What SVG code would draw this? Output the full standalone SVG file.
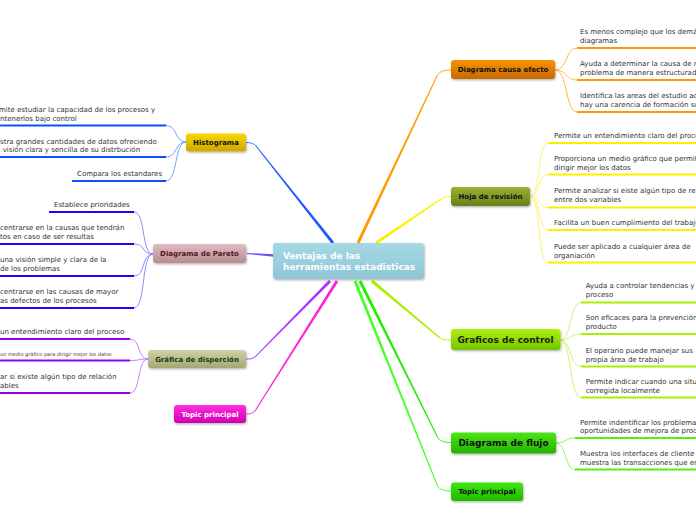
<svg xmlns="http://www.w3.org/2000/svg" width="696" height="520" viewBox="0 0 696 520">
<style>
.t{font-family:"DejaVu Sans",Verdana,sans-serif;font-size:7px;fill:#333}
.nb{font-family:"DejaVu Sans",Verdana,sans-serif;font-weight:bold;font-size:7px;text-anchor:middle}
.nl{font-family:"DejaVu Sans",Verdana,sans-serif;font-weight:bold;font-size:9px;text-anchor:middle}
.u{stroke-width:2;fill:none}
.c{stroke-width:0.9;fill:none}
</style>
<defs>
<filter id="sh" x="-10%" y="-20%" width="125%" height="160%"><feDropShadow dx="0.8" dy="1.2" stdDeviation="0.9" flood-color="#000" flood-opacity="0.3"/></filter>
<linearGradient id="gC" x1="0" y1="0" x2="0" y2="1"><stop offset="0" stop-color="#a6d8e4"/><stop offset="1" stop-color="#8ec6d6"/></linearGradient>
<linearGradient id="gH" x1="0" y1="0" x2="0" y2="1"><stop offset="0" stop-color="#f7d800"/><stop offset="1" stop-color="#d0a600"/></linearGradient>
<linearGradient id="gP" x1="0" y1="0" x2="0" y2="1"><stop offset="0" stop-color="#e0bcc0"/><stop offset="1" stop-color="#b88c92"/></linearGradient>
<linearGradient id="gD" x1="0" y1="0" x2="0" y2="1"><stop offset="0" stop-color="#cfd3a6"/><stop offset="1" stop-color="#a3a872"/></linearGradient>
<linearGradient id="gM" x1="0" y1="0" x2="0" y2="1"><stop offset="0" stop-color="#ff2ee0"/><stop offset="1" stop-color="#d000b0"/></linearGradient>
<linearGradient id="gO" x1="0" y1="0" x2="0" y2="1"><stop offset="0" stop-color="#f89400"/><stop offset="1" stop-color="#c66800"/></linearGradient>
<linearGradient id="gR" x1="0" y1="0" x2="0" y2="1"><stop offset="0" stop-color="#9cb232"/><stop offset="1" stop-color="#66801a"/></linearGradient>
<linearGradient id="gG" x1="0" y1="0" x2="0" y2="1"><stop offset="0" stop-color="#aef010"/><stop offset="1" stop-color="#74c400"/></linearGradient>
<linearGradient id="gF" x1="0" y1="0" x2="0" y2="1"><stop offset="0" stop-color="#4ee418"/><stop offset="1" stop-color="#22b400"/></linearGradient>
<linearGradient id="gT" x1="0" y1="0" x2="0" y2="1"><stop offset="0" stop-color="#3ee80e"/><stop offset="1" stop-color="#20b800"/></linearGradient>
</defs>

<g id="connectors">
  <!-- main connectors -->
  <path d="M246,142.5 C251,142.5 254,143.5 256,146" stroke="#2a66ff" class="c"/>
  <polygon points="255.61,146.31 331.83,243.93 334.17,242.07 256.39,145.69" fill="#1f5cff"/>
  <path d="M451,70 C444,70 440,71 437,76" stroke="#ff9a00" class="c"/>
  <polygon points="436.55,75.79 356.64,242.36 359.36,243.64 437.45,76.21" fill="#ff9a00"/>
  <path d="M451,196.5 C446,196.5 444,197 441,199" stroke="#ffee00" class="c"/>
  <polygon points="440.72,198.59 375.16,241.76 376.84,244.24 441.28,199.41" fill="#ffee00"/>
  <polygon points="246.96,254 273.91,256.7 274.09,254.3 247.04,253" fill="#6a50ff"/>
  <path d="M246,359 C250,359 252,359 255,357" stroke="#aa33ff" class="c"/>
  <polygon points="255.36,357.35 331.07,282.05 328.93,279.95 254.64,356.65" fill="#aa33ff"/>
  <path d="M246,414 C250,414 252,413.5 255,411" stroke="#ff22dd" class="c"/>
  <polygon points="255.42,411.27 338.27,281.8 335.73,280.2 254.58,410.73" fill="#ff22dd"/>
  <path d="M451,340 C446,340 443,340 440,338" stroke="#aaee00" class="c"/>
  <polygon points="440.32,337.62 372.96,279.85 371.04,282.15 439.68,338.38" fill="#aaee00"/>
  <path d="M451,442.5 C445,442.5 441,441.5 438,438" stroke="#22ee00" class="c"/>
  <polygon points="438.45,437.78 361.34,280.33 358.66,281.67 437.55,438.22" fill="#22ee00"/>
  <path d="M451,491 C445,491 441,490 438,487" stroke="#44ff22" class="c"/>
  <polygon points="438.46,486.81 356.39,280.44 353.61,281.56 437.54,487.19" fill="#44ff22"/>

  <!-- Histograma children -->
  <g stroke="#6a96ff" class="c">
    <path d="M186,142 C174,142 178,125.5 166,125.5"/>
    <path d="M186,142 C174,142 178,157 166,157"/>
    <path d="M186,142 C174,142 178,181 166,181"/>
  </g>
  <g stroke="#0a50ff" class="u">
    <line x1="0" y1="125.5" x2="166" y2="125.5"/>
    <line x1="0" y1="157" x2="166" y2="157"/>
    <line x1="72" y1="181" x2="166" y2="181"/>
  </g>
  <!-- Pareto children -->
  <g stroke="#8a7aff" class="c">
    <path d="M153,254 C141,254 146,212 134,212"/>
    <path d="M153,254 C141,254 146,244 134,244"/>
    <path d="M153,254 C141,254 146,276 134,276"/>
    <path d="M153,254 C141,254 146,308 134,308"/>
  </g>
  <g stroke="#2a00f0" class="u">
    <line x1="49" y1="212" x2="134" y2="212"/>
    <line x1="0" y1="244" x2="134" y2="244"/>
    <line x1="0" y1="276" x2="134" y2="276"/>
    <line x1="0" y1="308" x2="134" y2="308"/>
  </g>
  <!-- Dispersion children -->
  <g stroke="#c070ff" class="c">
    <path d="M148,359 C137,359 141,339 130,339"/>
    <path d="M148,359 C137,359 141,360.5 130,360.5"/>
    <path d="M148,359 C137,359 141,393 130,393"/>
  </g>
  <g stroke="#9400ee" class="u">
    <line x1="0" y1="339" x2="130" y2="339"/>
    <line x1="0" y1="360.5" x2="130" y2="360.5"/>
    <line x1="0" y1="393" x2="130" y2="393"/>
  </g>
  <!-- Causa efecto children -->
  <g stroke="#ffb040" class="c">
    <path d="M555,70 C568,70 565,48 577,48"/>
    <path d="M555,70 C568,70 565,80 577,80"/>
    <path d="M555,70 C568,70 565,112 577,112"/>
  </g>
  <g stroke="#ff9900" class="u">
    <line x1="577" y1="48" x2="696" y2="48"/>
    <line x1="577" y1="80" x2="696" y2="80"/>
    <line x1="577" y1="112" x2="696" y2="112"/>
  </g>
  <!-- Hoja children -->
  <g stroke="#fff060" class="c">
    <path d="M530,196 C541,196 537,143 548,143"/>
    <path d="M530,196 C541,196 537,174.5 548,174.5"/>
    <path d="M530,196 C541,196 537,207.5 548,207.5"/>
    <path d="M530,196 C541,196 537,230 548,230"/>
    <path d="M530,196 C541,196 537,262.5 548,262.5"/>
  </g>
  <g stroke="#ffee00" class="u">
    <line x1="548" y1="143" x2="696" y2="143"/>
    <line x1="548" y1="174.5" x2="696" y2="174.5"/>
    <line x1="548" y1="207.5" x2="696" y2="207.5"/>
    <line x1="548" y1="230" x2="696" y2="230"/>
    <line x1="548" y1="262.5" x2="696" y2="262.5"/>
  </g>
  <!-- Control children -->
  <g stroke="#c8f060" class="c">
    <path d="M560,340 C572,340 569,302.5 581,302.5"/>
    <path d="M560,340 C572,340 569,334 581,334"/>
    <path d="M560,340 C572,340 569,366.5 581,366.5"/>
    <path d="M560,340 C572,340 569,397.5 581,397.5"/>
  </g>
  <g stroke="#aaee00" class="u">
    <line x1="581" y1="302.5" x2="696" y2="302.5"/>
    <line x1="581" y1="334" x2="696" y2="334"/>
    <line x1="581" y1="366.5" x2="696" y2="366.5"/>
    <line x1="581" y1="397.5" x2="696" y2="397.5"/>
  </g>
  <!-- Flujo children -->
  <g stroke="#80f050" class="c">
    <path d="M556,443 C566,443 565,438 575,438"/>
    <path d="M556,443 C566,443 565,469.5 575,469.5"/>
  </g>
  <g stroke="#55ee11" class="u">
    <line x1="575" y1="438" x2="696" y2="438"/>
    <line x1="575" y1="469.5" x2="696" y2="469.5"/>
  </g>
</g>

<g id="center">
  <rect x="273" y="243" width="151" height="36" rx="3" fill="url(#gC)" filter="url(#sh)"/>
  <text x="283" y="259.3" font-family="DejaVu Sans,Verdana,sans-serif" font-weight="bold" font-size="9" fill="#fff">Ventajas de las</text>
  <text x="283" y="269.5" font-family="DejaVu Sans,Verdana,sans-serif" font-weight="bold" font-size="9" fill="#fff">herramientas estadisticas</text>
</g>

<g id="histograma">
  <rect x="186" y="133.5" width="60" height="18" rx="3" fill="url(#gH)" filter="url(#sh)"/>
  <text class="nb" x="216" y="145" fill="#111">Histograma</text>
</g>
<g id="histograma-items" class="t">
  <text x="-1" y="112">mite estudiar la capacidad de los procesos y</text>
  <text x="0" y="120.5">ntenerlos bajo control</text>
  <text x="0" y="143.5">stra grandes cantidades de datos ofreciendo</text>
  <text x="2.7" y="152">visión clara y sencilla de su distrbución</text>
  <text x="77" y="176">Compara los estandares</text>
</g>

<g id="pareto">
  <rect x="153" y="244" width="93" height="19" rx="3" fill="url(#gP)" filter="url(#sh)"/>
  <text class="nb" x="199.5" y="256" fill="#5a1426">Diagrama de Pareto</text>
</g>
<g id="pareto-items" class="t">
  <text x="54" y="207">Establece prioridades</text>
  <text x="0" y="229.5">centrarse en la causas que tendrán</text>
  <text x="0" y="238.5">tos en caso de ser resultas</text>
  <text x="0" y="262">una visión simple y clara de la</text>
  <text x="0" y="271">de los problemas</text>
  <text x="0" y="293.5">centrarse en las causas de mayor</text>
  <text x="0" y="302.5">as defectos de los procesos</text>
</g>

<g id="dispersion">
  <rect x="148" y="350" width="98" height="18" rx="3" fill="url(#gD)" filter="url(#sh)"/>
  <text class="nb" x="197" y="361.5" fill="#1c3812">Gráfica de disperción</text>
</g>
<g id="dispersion-items" class="t">
  <text x="0" y="333.5">un entendimiento claro del proceso</text>
  <text x="0" y="355.8" style="font-size:5px">un medio gráfico para dirigir mejor los datos</text>
  <text x="0" y="379">ar si existe algún tipo de relación</text>
  <text x="0" y="387.5">ables</text>
</g>

<g id="topic-magenta">
  <rect x="174" y="405" width="72" height="18" rx="3" fill="url(#gM)" filter="url(#sh)"/>
  <text class="nb" x="210" y="416.5" fill="#fff">Topic principal</text>
</g>

<g id="causa-efecto">
  <rect x="451" y="60" width="104" height="19" rx="3" fill="url(#gO)" filter="url(#sh)"/>
  <text class="nb" x="503" y="72" fill="#111">Diagrama causa efecto</text>
</g>
<g id="causa-items" class="t">
  <text x="580" y="34">Es menos complejo que los demá</text>
  <text x="580" y="42.5">diagramas</text>
  <text x="580" y="66">Ayuda a determinar la causa de r</text>
  <text x="580" y="74.7">problema de manera estructurad</text>
  <text x="580" y="98">Identifica las areas del estudio ad</text>
  <text x="580" y="106.5">hay una carencia de formación su</text>
</g>

<g id="hoja">
  <rect x="451" y="187" width="79" height="19" rx="3" fill="url(#gR)" filter="url(#sh)"/>
  <text class="nb" x="490.5" y="199" fill="#111">Hoja de revisión</text>
</g>
<g id="hoja-items" class="t">
  <text x="554" y="137.5">Permite un entendimiento claro del proce</text>
  <text x="554" y="160.7">Proporciona un medio gráfico que permit</text>
  <text x="554" y="169.7">dirigir mejor los datos</text>
  <text x="554" y="193">Permite analizar si eiste algún tipo de re</text>
  <text x="554" y="202.3">entre dos variables</text>
  <text x="554" y="224.7">Facilita un buen cumplimiento del trabajo</text>
  <text x="554" y="249">Puede ser aplicado a cualquier área de</text>
  <text x="554" y="257.5">organiación</text>
</g>

<g id="control">
  <rect x="451" y="329" width="109.5" height="21" rx="3" fill="url(#gG)" filter="url(#sh)"/>
  <text class="nl" x="505.5" y="343" fill="#1a2a00">Graficos de control</text>
</g>
<g id="control-items" class="t">
  <text x="585.7" y="288">Ayuda a controlar tendencias y</text>
  <text x="585.7" y="296.7">proceso</text>
  <text x="585.7" y="320">Son eficaces para la prevención</text>
  <text x="585.7" y="329">producto</text>
  <text x="585.7" y="352.5">El operario puede manejar sus</text>
  <text x="585.7" y="361.5">propia área de trabajo</text>
  <text x="585.7" y="383.5">Permite indicar cuando una situ</text>
  <text x="585.7" y="392.5">corregida localmente</text>
</g>

<g id="flujo">
  <rect x="451" y="432.5" width="105" height="21" rx="3" fill="url(#gF)" filter="url(#sh)"/>
  <text class="nl" x="503.5" y="446.3" fill="#111">Diagrama de flujo</text>
</g>
<g id="flujo-items" class="t">
  <text x="580" y="424.5">Permite indentificar los problema</text>
  <text x="580" y="432.5">oportunidades de mejora de proc</text>
  <text x="580" y="455.7">Muestra los interfaces de cliente</text>
  <text x="580" y="464.5">muestra las transacciones que er</text>
</g>

<g id="topic-green">
  <rect x="451" y="482.5" width="72" height="18.5" rx="3" fill="url(#gT)" filter="url(#sh)"/>
  <text class="nb" x="487" y="494.3" fill="#111">Topic principal</text>
</g>
</svg>
